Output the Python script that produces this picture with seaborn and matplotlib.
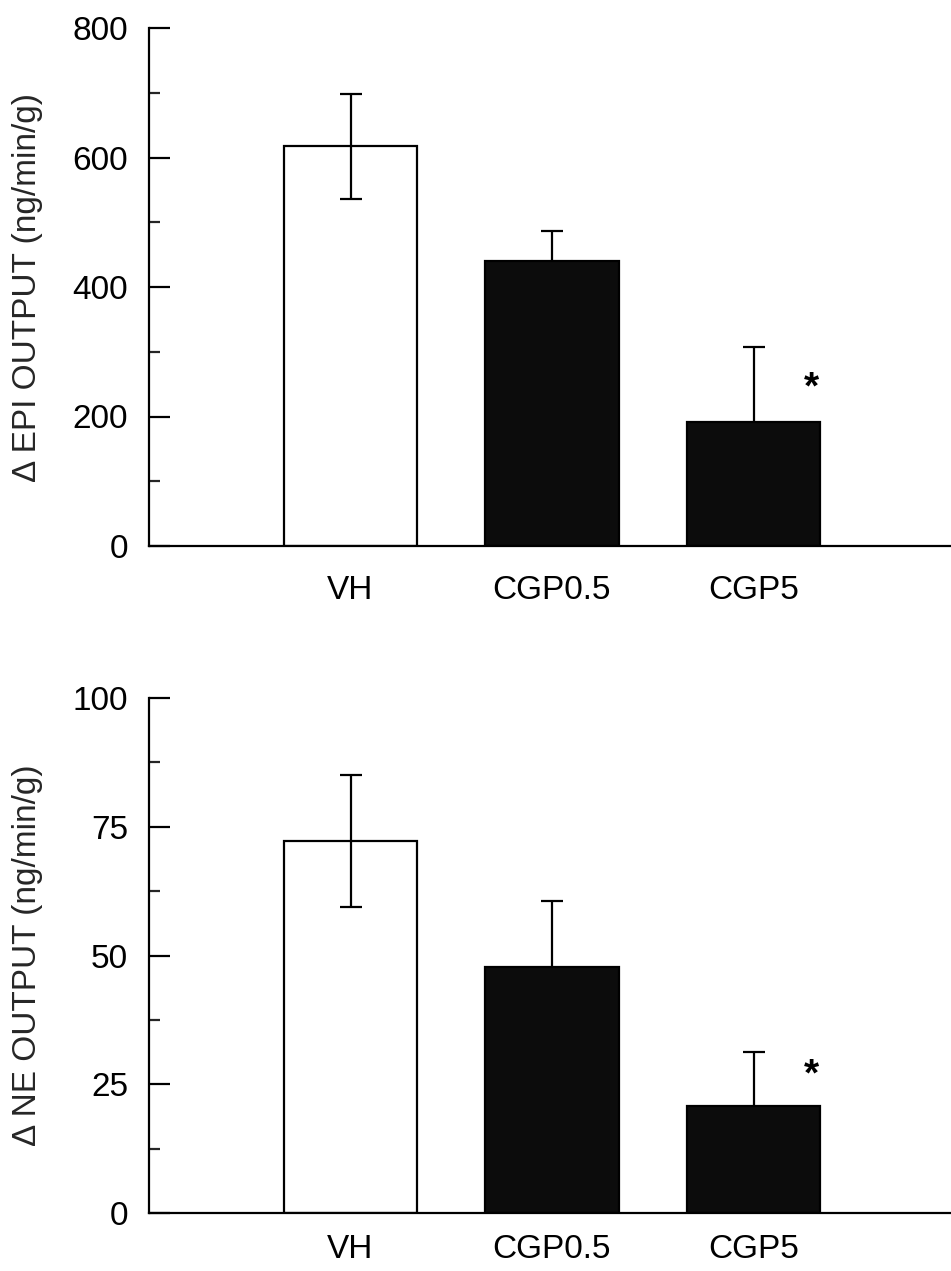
import numpy as np
import pandas as pd
import matplotlib
matplotlib.use("Agg")
import matplotlib.pyplot as plt
from matplotlib.ticker import MultipleLocator
import seaborn as sns

# Treatment groups
groups = ["VH", "CGP0.5", "CGP5"]

# Adrenal epinephrine output change (ng/min/g), mean and SEM
epi_mean = [617, 440, 192]
epi_sem = [81, 46, 116]

# Adrenal norepinephrine output change (ng/min/g), mean and SEM
ne_mean = [72.3, 47.8, 20.7]
ne_sem = [12.8, 12.7, 10.6]

# Groups flagged as significantly different from vehicle
significant = ["CGP5"]

sns.set_theme(style="ticks")
plt.rcParams["font.family"] = ["Liberation Sans", "DejaVu Sans"]

FS = 24
LW = 1.6
DARK = "#0c0c0c"
fill_colors = {"VH": "white", "CGP0.5": DARK, "CGP5": DARK}

fig = plt.figure(figsize=(9.51, 12.71), dpi=100)
W, H = 951, 1271
ax_top = fig.add_axes([149 / W, 1 - 546 / H, 806 / W, 518 / H])
ax_bot = fig.add_axes([149 / W, 1 - 1213 / H, 806 / W, 515 / H])


def panel(ax, means, sems, ymax, major, minor, ylabel, star_offset, xpad):
    df = pd.DataFrame({"group": groups, "value": means})
    sns.barplot(data=df, x="group", y="value", hue="group", order=groups,
                hue_order=groups, palette=fill_colors, saturation=1,
                width=0.665, edgecolor="black", linewidth=LW,
                legend=False, errorbar=None, ax=ax, zorder=2)
    # whiskers sit in front of open bars and behind filled ones
    for i, g in enumerate(groups):
        z = 3 if fill_colors[g] == "white" else 1
        ax.errorbar([i], [means[i]], yerr=[sems[i]], fmt="none",
                    ecolor="black", elinewidth=LW, capsize=8, capthick=LW,
                    zorder=z)
        if g in significant:
            ax.text(i + 0.29, means[i] + sems[i] - star_offset, "*",
                    ha="center", va="center", fontsize=FS + 4,
                    fontweight="bold", color="black")
    ax.set_xlim(-1.0, 3.0)
    ax.set_ylim(0, ymax)
    ax.yaxis.set_major_locator(MultipleLocator(major))
    ax.yaxis.set_minor_locator(MultipleLocator(minor))
    ax.tick_params(axis="y", which="major", direction="in", length=15,
                   width=LW, pad=15, labelsize=FS)
    ax.tick_params(axis="y", which="minor", direction="in", length=8,
                   width=LW)
    ax.tick_params(axis="x", length=0, pad=xpad, labelsize=FS)
    ax.set_xlabel("")
    ax.set_ylabel(ylabel, fontsize=FS, labelpad=21)
    sns.despine(ax=ax)
    for s in ("left", "bottom"):
        ax.spines[s].set_linewidth(LW)
        ax.spines[s].set_color("black")
    ax.tick_params(colors="black")


panel(ax_top, epi_mean, epi_sem, 800, 200, 100,
      "\u0394 EPI OUTPUT (ng/min/g)", 64, 21)
panel(ax_bot, ne_mean, ne_sem, 100, 25, 12.5,
      "\u0394 NE OUTPUT (ng/min/g)", 4.6, 15)

fig.savefig("out.png", dpi=100, facecolor="white")
